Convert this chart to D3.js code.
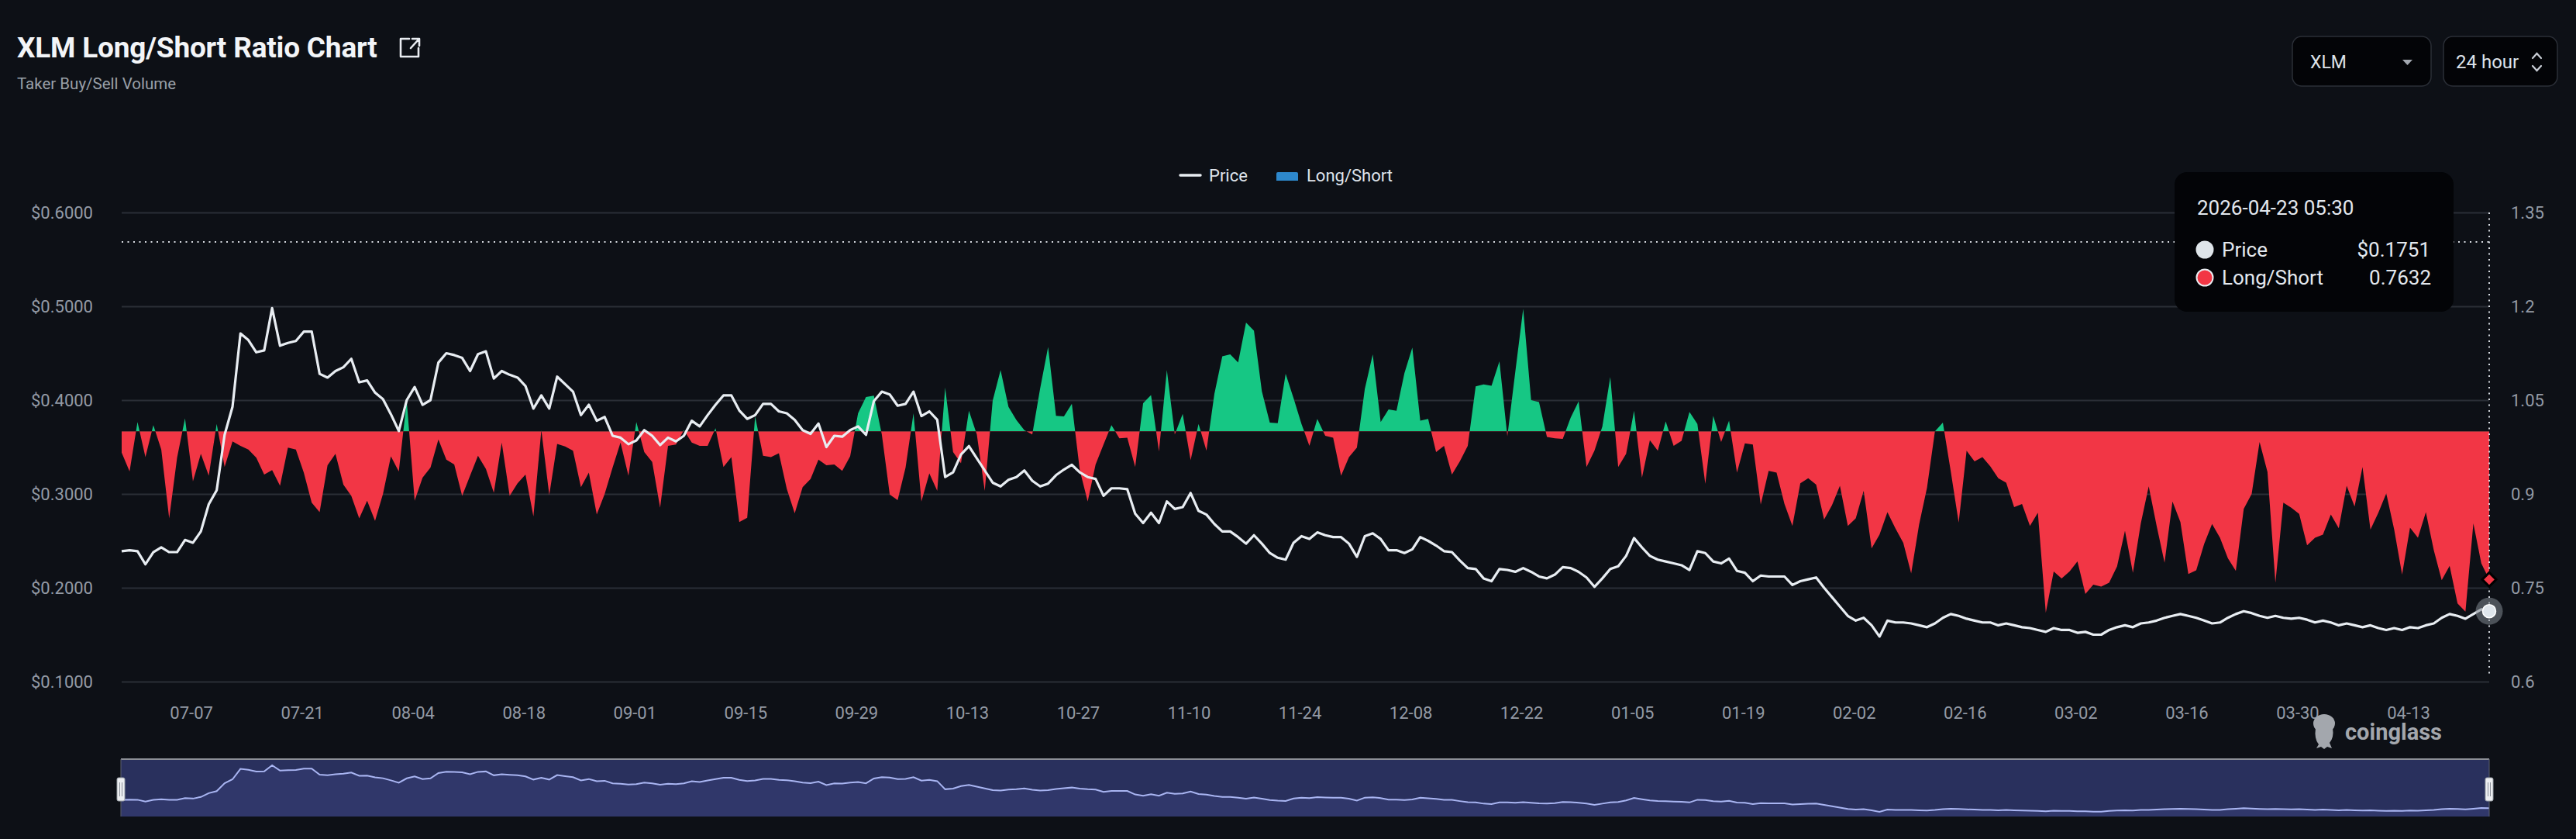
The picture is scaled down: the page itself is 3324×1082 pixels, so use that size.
<!DOCTYPE html>
<html><head><meta charset="utf-8">
<script src="https://cdn.jsdelivr.net/npm/d3@7"></script>
<style>
html,body{margin:0;padding:0;background:#0d1016;}
svg{display:block;font-family:Roboto,"Noto Sans",sans-serif;}
</style></head><body>
<svg id="chart" width="3324" height="1082"></svg>
<script>
// ---------- DATA ----------
const startDate = "2025-06-28T05:30:00Z";   // first daily point, one point per day
const priceValues = [
0.239,0.240,0.239,0.225,0.238,0.243,0.238,0.238,0.251,0.248,
0.260,0.289,0.304,0.363,0.393,0.471,0.464,0.451,0.453,0.498,
0.458,0.461,0.463,0.473,0.473,0.428,0.424,0.431,0.435,0.444,
0.419,0.421,0.408,0.401,0.385,0.367,0.400,0.414,0.395,0.400,
0.440,0.450,0.448,0.445,0.431,0.449,0.452,0.423,0.431,0.427,
0.424,0.415,0.391,0.405,0.391,0.425,0.417,0.409,0.384,0.395,
0.378,0.382,0.362,0.360,0.353,0.357,0.368,0.362,0.352,0.360,
0.356,0.362,0.378,0.372,0.384,0.395,0.405,0.405,0.389,0.380,
0.384,0.396,0.396,0.388,0.386,0.379,0.368,0.364,0.375,0.350,
0.362,0.361,0.368,0.372,0.363,0.399,0.409,0.406,0.394,0.396,
0.409,0.383,0.388,0.379,0.318,0.323,0.342,0.351,0.338,0.325,
0.312,0.308,0.315,0.318,0.325,0.314,0.308,0.311,0.320,0.326,
0.331,0.323,0.318,0.316,0.298,0.306,0.306,0.305,0.279,0.269,
0.280,0.269,0.292,0.284,0.286,0.301,0.282,0.278,0.268,0.260,
0.260,0.254,0.247,0.256,0.247,0.237,0.232,0.230,0.248,0.255,
0.252,0.259,0.256,0.254,0.254,0.247,0.233,0.255,0.258,0.252,
0.240,0.240,0.237,0.241,0.254,0.250,0.245,0.239,0.238,0.229,
0.221,0.220,0.210,0.207,0.220,0.219,0.217,0.221,0.217,0.212,
0.210,0.214,0.222,0.221,0.217,0.211,0.201,0.210,0.220,0.223,
0.234,0.253,0.243,0.234,0.230,0.228,0.226,0.224,0.219,0.239,
0.237,0.228,0.226,0.231,0.218,0.216,0.207,0.213,0.212,0.212,
0.212,0.203,0.207,0.209,0.211,0.200,0.190,0.180,0.170,0.165,
0.168,0.160,0.148,0.165,0.163,0.163,0.162,0.160,0.158,0.162,
0.168,0.172,0.170,0.167,0.165,0.163,0.163,0.160,0.162,0.160,
0.158,0.157,0.155,0.153,0.157,0.155,0.155,0.152,0.153,0.150,
0.150,0.155,0.158,0.160,0.158,0.162,0.163,0.165,0.168,0.170,
0.172,0.170,0.168,0.165,0.162,0.163,0.168,0.172,0.175,0.173,
0.170,0.168,0.170,0.168,0.167,0.168,0.166,0.163,0.165,0.163,
0.160,0.162,0.160,0.158,0.160,0.157,0.155,0.157,0.155,0.158,
0.157,0.160,0.162,0.168,0.172,0.170,0.167,0.172,0.177,0.1751
];
const ratioValues = [
0.966,0.936,1.015,0.959,1.010,0.971,0.861,0.958,1.021,0.920,
0.964,0.929,1.012,0.943,0.984,0.977,0.971,0.958,0.931,0.938,
0.913,0.974,0.971,0.934,0.886,0.871,0.946,0.964,0.915,0.897,
0.861,0.889,0.857,0.900,0.960,0.936,1.049,0.889,0.926,0.942,
0.987,0.955,0.947,0.897,0.929,0.961,0.940,0.902,0.982,0.897,
0.917,0.931,0.864,1.002,0.898,0.980,0.976,0.969,0.911,0.934,
0.867,0.900,0.942,0.982,0.929,1.015,0.967,0.951,0.878,0.977,
0.979,1.002,0.982,0.977,0.977,1.005,0.943,0.959,0.855,0.862,
1.024,0.961,0.959,0.965,0.908,0.869,0.911,0.924,0.955,0.946,
0.947,0.937,0.960,1.029,1.055,1.057,0.995,0.899,0.890,0.942,
1.029,0.888,0.933,0.905,1.070,0.967,0.949,1.033,0.995,0.905,
1.049,1.098,1.039,1.018,1.002,0.995,1.069,1.135,1.025,1.024,
1.044,0.938,0.888,0.947,0.979,1.010,0.989,0.990,0.943,1.045,
1.058,0.968,1.098,0.995,1.028,0.954,1.012,0.969,1.060,1.120,
1.123,1.110,1.174,1.161,1.064,1.014,1.013,1.092,1.053,1.012,
0.977,1.020,0.993,0.990,0.929,0.959,0.974,1.068,1.123,1.015,
1.035,1.033,1.093,1.134,1.017,1.020,0.967,0.977,0.931,0.952,
0.977,1.072,1.075,1.073,1.112,0.992,1.095,1.196,1.050,1.047,
0.991,0.989,0.988,1.022,1.048,0.943,0.969,1.008,1.087,0.943,
0.964,1.033,0.926,0.986,0.969,1.016,0.977,0.985,1.031,1.012,
0.916,1.025,0.983,1.017,0.934,0.981,0.979,0.883,0.937,0.934,
0.884,0.849,0.917,0.925,0.915,0.859,0.882,0.913,0.849,0.861,
0.905,0.813,0.835,0.871,0.845,0.822,0.773,0.851,0.910,1.000,
1.014,0.936,0.854,0.969,0.952,0.959,0.944,0.925,0.918,0.879,
0.884,0.849,0.870,0.710,0.776,0.765,0.776,0.792,0.740,0.755,
0.752,0.758,0.784,0.841,0.774,0.853,0.912,0.849,0.790,0.888,
0.855,0.772,0.778,0.820,0.852,0.830,0.797,0.777,0.876,0.900,
0.983,0.935,0.758,0.886,0.878,0.868,0.818,0.830,0.835,0.867,
0.845,0.913,0.880,0.943,0.843,0.870,0.901,0.843,0.771,0.846,
0.830,0.871,0.810,0.762,0.785,0.725,0.712,0.853,0.789,0.7632
];
const priceTicks = [0.1, 0.2, 0.3, 0.4, 0.5, 0.6];
const ratioTicks = [0.6, 0.75, 0.9, 1.05, 1.2, 1.35];
const xTickDates = ["2025-07-07","2025-07-21","2025-08-04","2025-08-18","2025-09-01","2025-09-15",
  "2025-09-29","2025-10-13","2025-10-27","2025-11-10","2025-11-24","2025-12-08","2025-12-22",
  "2026-01-05","2026-01-19","2026-02-02","2026-02-16","2026-03-02","2026-03-16","2026-03-30","2026-04-13"];
const ratioBase = 1.0;
const crosshairRatio = 1.303;
const titleText = "XLM Long/Short Ratio Chart";
const subtitleText = "Taker Buy/Sell Volume";
const coinLabel = "XLM";
const intervalLabel = "24 hour";
const tooltipTime = "2026-04-23 05:30";
const seriesNames = ["Price", "Long/Short"];

// ---------- SETUP ----------
const W = 3324, H = 1082;
const L = 157, R = 3212, T = 274, B = 879;
const BG = "#0d1016", GREEN = "#16c784", RED = "#f23645";
const svg = d3.select("#chart");
svg.append("rect").attr("width", W).attr("height", H).attr("fill", BG);

const t0 = new Date(startDate);
const dates = priceValues.map((_, i) => d3.utcDay.offset(t0, i));
const x = d3.scaleUtc().domain([dates[0], dates[dates.length - 1]]).range([L, R]);
const yP = d3.scaleLinear().domain([0.1, 0.6]).range([B, T]);
const yR = d3.scaleLinear().domain([0.6, 1.35]).range([B, T]);

// ---------- HEADER ----------
svg.append("text").attr("x", 22).attr("y", 74).text(titleText)
  .attr("fill", "#f3f5f8").style("font-size", "37px").style("font-weight", 700).style("letter-spacing", "-0.2px");
svg.append("path").attr("d", "M528,50 H517 V73 H540 V62 M530,62 L540,51 M532,50 H541 V59")
  .attr("fill", "none").attr("stroke", "#e9ecf1").attr("stroke-width", 2.6).attr("stroke-linecap", "round").attr("stroke-linejoin", "round");
svg.append("text").attr("x", 22).attr("y", 115).text(subtitleText)
  .attr("fill", "#9aa0a8").style("font-size", "20.5px");

// dropdowns
const dd = svg.append("g");
dd.append("rect").attr("x", 2958).attr("y", 47).attr("width", 179).attr("height", 64).attr("rx", 12)
  .attr("fill", "#030407").attr("stroke", "#2b2f37").attr("stroke-width", 1.5);
dd.append("text").attr("x", 2981).attr("y", 80).attr("dominant-baseline", "central").text(coinLabel)
  .attr("fill", "#dde2e9").style("font-size", "23px");
dd.append("path").attr("d", "M3100,77 L3113,77 L3106.5,84 Z").attr("fill", "#a3a8b0");
dd.append("rect").attr("x", 3153).attr("y", 47).attr("width", 147).attr("height", 64).attr("rx", 12)
  .attr("fill", "#030407").attr("stroke", "#2b2f37").attr("stroke-width", 1.5);
dd.append("text").attr("x", 3169).attr("y", 80).attr("dominant-baseline", "central").text(intervalLabel)
  .attr("fill", "#dde2e9").style("font-size", "24px");
dd.append("path").attr("d", "M3268,75 L3273.5,69 L3279,75 M3268,85 L3273.5,91 L3279,85")
  .attr("fill", "none").attr("stroke", "#c9ced6").attr("stroke-width", 2.2).attr("stroke-linecap", "round");

// legend
const lg = svg.append("g");
lg.append("line").attr("x1", 1523).attr("x2", 1549).attr("y1", 226).attr("y2", 226)
  .attr("stroke", "#e8edf2").attr("stroke-width", 3.5).attr("stroke-linecap", "round");
lg.append("text").attr("x", 1560).attr("y", 226).attr("dominant-baseline", "central").text(seriesNames[0])
  .attr("fill", "#dfe4ec").style("font-size", "22px");
lg.append("path").attr("d", "M1647,233 V224 Q1647,222 1649,222 H1673 Q1675,222 1675,224 V233 Z").attr("fill", "#2d88cc");
lg.append("text").attr("x", 1686).attr("y", 226).attr("dominant-baseline", "central").text(seriesNames[1])
  .attr("fill", "#dfe4ec").style("font-size", "22px");

// ---------- AXES & GRID ----------
const gl = svg.append("g").attr("transform", `translate(${L},0)`)
  .call(d3.axisLeft(yP).tickValues(priceTicks).tickFormat(d => "$" + d.toFixed(4)).tickSize(-(R - L)).tickPadding(37));
gl.select(".domain").remove();
gl.selectAll(".tick line").attr("stroke", "#2a2e36").attr("stroke-width", 2);
gl.selectAll(".tick text").attr("fill", "#939aa5").style("font-size", "22px").style("font-family", "Roboto");

const gr = svg.append("g").attr("transform", `translate(${R},0)`)
  .call(d3.axisRight(yR).tickValues(ratioTicks).tickFormat(d => String(d)).tickSize(0).tickPadding(28));
gr.select(".domain").remove();
gr.selectAll(".tick text").attr("fill", "#939aa5").style("font-size", "22px").style("font-family", "Roboto");

const gb = svg.append("g").attr("transform", `translate(0,${B})`)
  .call(d3.axisBottom(x).tickValues(xTickDates.map(s => new Date(s + "T00:00:00Z")))
    .tickFormat(d3.utcFormat("%m-%d")).tickSize(0).tickPadding(32));
gb.select(".domain").remove();
gb.selectAll(".tick text").attr("fill", "#939aa5").style("font-size", "22px").style("font-family", "Roboto");

// ---------- LONG/SHORT AREA ----------
const defs = svg.append("defs");
defs.append("clipPath").attr("id", "clipUp").append("rect")
  .attr("x", L).attr("y", T - 20).attr("width", R - L).attr("height", yR(ratioBase) - T + 20);
defs.append("clipPath").attr("id", "clipDown").append("rect")
  .attr("x", L).attr("y", yR(ratioBase)).attr("width", R - L).attr("height", B - yR(ratioBase) + 20);
const area = d3.area().x((d, i) => x(dates[i])).y0(yR(ratioBase)).y1(d => yR(d));
svg.append("path").datum(ratioValues).attr("d", area).attr("fill", GREEN).attr("clip-path", "url(#clipUp)");
svg.append("path").datum(ratioValues).attr("d", area).attr("fill", RED).attr("clip-path", "url(#clipDown)");

// ---------- PRICE LINE ----------
const line = d3.line().x((d, i) => x(dates[i])).y(d => yP(d));
svg.append("path").datum(priceValues).attr("d", line).attr("fill", "none")
  .attr("stroke", "#e8edf2").attr("stroke-width", 3.2).attr("stroke-linejoin", "round");

// ---------- CROSSHAIR ----------
const last = dates.length - 1;
const cx = x(dates[last]);
svg.append("line").attr("x1", L).attr("x2", cx).attr("y1", yR(crosshairRatio)).attr("y2", yR(crosshairRatio))
  .attr("stroke", "#d6dae0").attr("stroke-width", 2).attr("stroke-dasharray", "2,5.5");
svg.append("line").attr("x1", cx).attr("x2", cx).attr("y1", T).attr("y2", B - 6)
  .attr("stroke", "#d6dae0").attr("stroke-width", 2).attr("stroke-dasharray", "2,5.5");

// markers
const py = yP(priceValues[last]);
svg.append("circle").attr("cx", cx).attr("cy", py).attr("r", 17.5).attr("fill", "rgba(130,136,146,0.55)");
svg.append("circle").attr("cx", cx).attr("cy", py).attr("r", 8.5).attr("fill", "#dfe6ec").attr("stroke", "#ffffff").attr("stroke-width", 1.5);
const ry = yR(ratioValues[last]);
svg.append("path").attr("d", `M${cx},${ry - 9} L${cx + 9},${ry} L${cx},${ry + 9} L${cx - 9},${ry} Z`)
  .attr("fill", RED).attr("stroke", "#000").attr("stroke-width", 3);

// ---------- TOOLTIP ----------
const tt = svg.append("g").attr("transform", "translate(2806,222)");
tt.append("rect").attr("width", 360).attr("height", 180).attr("rx", 16).attr("fill", "#030407");
tt.append("text").attr("x", 29).attr("y", 46).attr("dominant-baseline", "central").text(tooltipTime)
  .attr("fill", "#e3e8ee").style("font-size", "26px");
tt.append("circle").attr("cx", 39).attr("cy", 100).attr("r", 11.5).attr("fill", "#dfe5ea");
tt.append("text").attr("x", 61).attr("y", 100).attr("dominant-baseline", "central").text(seriesNames[0])
  .attr("fill", "#e3e8ee").style("font-size", "26px");
tt.append("text").attr("x", 330).attr("y", 100).attr("dominant-baseline", "central").attr("text-anchor", "end")
  .text("$" + priceValues[last].toFixed(4)).attr("fill", "#e3e8ee").style("font-size", "26px");
tt.append("circle").attr("cx", 39).attr("cy", 136).attr("r", 10.5).attr("fill", RED).attr("stroke", "#e9edf1").attr("stroke-width", 2);
tt.append("text").attr("x", 61).attr("y", 136).attr("dominant-baseline", "central").text(seriesNames[1])
  .attr("fill", "#e3e8ee").style("font-size", "26px");
tt.append("text").attr("x", 331).attr("y", 136).attr("dominant-baseline", "central").attr("text-anchor", "end")
  .text(ratioValues[last].toFixed(4)).attr("fill", "#e3e8ee").style("font-size", "26px");

// ---------- WATERMARK ----------
const wm = svg.append("g").attr("fill", "#a3a7ad");
wm.append("ellipse").attr("cx", 2999).attr("cy", 933).attr("rx", 14).attr("ry", 12);
wm.append("path").attr("d", "M2988,939 Q2986,953 2992,960 L2989,965 L2995,963 L2999,966 L3003,963 L3009,965 L3006,958 Q3012,951 3010,939 Z");
wm.append("text").attr("x", 3026).attr("y", 954).text("coinglass").style("font-size", "29px").style("font-weight", 700);

// ---------- NAVIGATOR ----------
const NT = 979, NB = 1053;
const nav = svg.append("g");
const ny = d3.scaleLinear().domain(d3.extent(priceValues)).range([1047, 987]);
nav.append("rect").attr("x", L - 1).attr("y", NT).attr("width", R - L + 1).attr("height", NB - NT).attr("fill", "#29305d");
nav.append("path").datum(priceValues)
  .attr("d", d3.area().x((d, i) => x(dates[i])).y0(NB).y1(d => ny(d)))
  .attr("fill", "#30376a");
nav.append("path").datum(priceValues)
  .attr("d", d3.line().x((d, i) => x(dates[i])).y(d => ny(d)))
  .attr("fill", "none").attr("stroke", "#a9b5f2").attr("stroke-width", 2);
nav.append("line").attr("x1", L - 1).attr("x2", R).attr("y1", NT).attr("y2", NT).attr("stroke", "#8c8f96").attr("stroke-width", 2);
nav.append("line").attr("x1", L - 1).attr("x2", L - 1).attr("y1", NT).attr("y2", NB).attr("stroke", "#5d6170").attr("stroke-width", 1);
nav.append("line").attr("x1", R).attr("x2", R).attr("y1", NT).attr("y2", NB).attr("stroke", "#5d6170").attr("stroke-width", 1);
[L - 1, R].forEach(hx => {
  nav.append("rect").attr("x", hx - 5).attr("y", 1003).attr("width", 10).attr("height", 30).attr("rx", 2)
    .attr("fill", "#eceef1").attr("stroke", "#9aa0a8").attr("stroke-width", 1);
  nav.append("line").attr("x1", hx - 1.5).attr("x2", hx - 1.5).attr("y1", 1009).attr("y2", 1027).attr("stroke", "#8a8f98");
  nav.append("line").attr("x1", hx + 1.5).attr("x2", hx + 1.5).attr("y1", 1009).attr("y2", 1027).attr("stroke", "#8a8f98");
});
</script>
</body></html>
